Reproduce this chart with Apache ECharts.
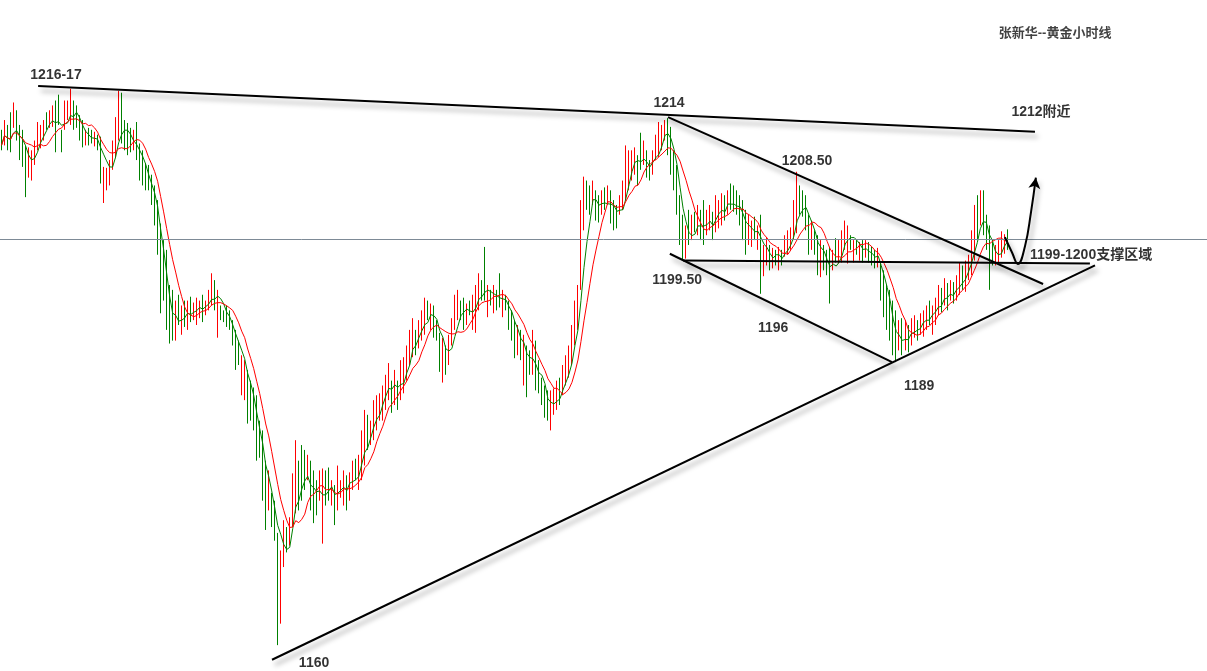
<!DOCTYPE html>
<html>
<head>
<meta charset="utf-8">
<title>张新华--黄金小时线</title>
<script src="https://cdn.jsdelivr.net/npm/echarts@6/dist/echarts.min.js"></script>
<style>
  html, body { margin: 0; padding: 0; background: #ffffff; }
  #chart { width: 1207px; height: 671px; }
</style>
</head>
<body>
<div id="chart"></div>
<script>
// Gold, hourly bars (USD/oz)
const openP = [
  1212.3,1211.6,1212.9,1213.8,1213.4,1214.5,1212.8,1212.2,1210.4,1208.3,
  1208.2,1209.7,1211.2,1211.5,1212.2,1214.2,1213.3,1213.6,1215.0,1215.6,
  1212.4,1213.2,1214.2,1214.0,1215.3,1214.8,1213.8,1213.2,1211.6,1212.7,
  1212.5,1211.5,1212.0,1211.4,1206.0,1207.1,1207.7,1209.3,1210.7,1212.6,
  1215.6,1213.2,1212.9,1212.4,1211.2,1212.9,1210.8,1210.0,1208.9,1208.7,
  1207.6,1206.4,1204.6,1202.0,1200.4,1199.0,1195.8,1195.5,1192.0,1195.2,
  1192.5,1194.8,1193.0,1195.2,1193.7,1193.4,1193.9,1195.3,1194.1,1194.7,
  1195.5,1196.9,1192.6,1194.5,1194.0,1194.3,1193.9,1192.8,1191.6,1190.7,
  1186.4,1186.0,1187.2,1186.4,1185.6,1184.5,1182.3,1180.8,1177.8,1174.6,
  1175.0,1174.0,1170.6,1163.5,1168.8,1171.7,1170.8,1173.0,1174.8,1178.2,
  1179.6,1179.3,1177.4,1178.3,1177.0,1176.2,1175.4,1171.8,1177.2,1177.6,
  1174.9,1175.8,1174.6,1175.5,1175.0,1176.9,1175.3,1176.5,1178.7,1176.6,
  1177.8,1179.4,1183.0,1181.0,1181.8,1182.7,1183.6,1183.7,1184.8,1185.9,
  1186.5,1185.3,1186.6,1185.9,1186.5,1187.8,1189.4,1190.3,1191.8,1191.0,
  1191.8,1192.6,1194.9,1192.9,1194.2,1192.9,1191.3,1187.8,1190.1,1189.3,
  1191.3,1193.0,1193.9,1194.9,1195.0,1193.3,1195.0,1193.0,1192.9,1195.0,
  1197.0,1199.5,1194.3,1196.0,1194.6,1196.0,1197.3,1194.2,1195.5,1194.8,
  1193.7,1192.6,1190.3,1191.7,1187.6,1189.8,1189.7,1188.5,1190.3,1188.6,
  1186.9,1186.0,1185.5,1182.8,1184.1,1184.7,1186.9,1186.2,1187.2,1188.0,
  1189.5,1191.6,1193.2,1197.4,1203.5,1207.0,1206.5,1205.6,1206.0,1205.5,
  1204.6,1206.4,1205.5,1206.0,1205.0,1204.6,1204.5,1205.2,1206.6,1207.4,
  1208.2,1208.7,1209.6,1211.7,1209.7,1210.2,1209.3,1208.7,1210.2,1210.8,
  1211.3,1212.2,1213.4,1212.3,1210.0,1208.3,1205.2,1203.2,1200.2,1203.9,
  1202.0,1204.0,1202.6,1204.0,1204.8,1202.5,1203.0,1203.8,1203.0,1203.3,
  1203.7,1205.6,1204.6,1206.8,1206.5,1206.1,1205.5,1204.8,1203.7,1201.6,
  1201.3,1203.4,1201.0,1203.0,1198.4,1199.5,1200.5,1199.1,1200.2,1198.9,
  1200.2,1200.3,1200.5,1201.0,1202.3,1203.3,1206.5,1206.1,1205.4,1203.3,
  1201.1,1202.0,1201.2,1198.4,1200.5,1200.0,1199.8,1198.8,1201.2,1199.6,
  1199.8,1201.1,1199.9,1201.7,1199.7,1201.2,1199.8,1201.1,1200.1,1200.9,
  1200.4,1200.1,1199.1,1198.6,1197.6,1196.1,1195.5,1194.3,1193.4,1190.8,
  1192.8,1190.8,1192.2,1191.3,1192.0,1192.9,1192.3,1192.2,1192.8,1194.8,
  1192.4,1193.4,1194.4,1196.1,1195.4,1196.6,1195.8,1196.8,1195.9,1196.6,
  1198.4,1196.8,1197.9,1198.7,1200.4,1205.3,1203.7,1205.8,1203.4,1201.8,
  1201.0,1199.3,1199.7,1200.2,1200.5,1202.2
];
const closeP = [
  1211.2,1213.2,1211.5,1211.4,1215.0,1212.6,1210.5,1209.8,1208.0,1210.3,
  1210.0,1211.2,1213.0,1212.8,1213.4,1213.1,1214.4,1214.9,1211.8,1214.0,
  1211.2,1215.1,1215.4,1215.6,1213.4,1213.5,1212.4,1211.6,1212.4,1211.7,
  1211.8,1212.2,1211.1,1208.2,1208.2,1208.4,1209.1,1211.0,1213.3,1215.5,
  1212.6,1211.4,1211.0,1211.2,1212.3,1210.6,1208.5,1207.9,1207.2,1207.0,
  1205.8,1203.8,1201.0,1195.6,1196.5,1193.8,1192.0,1192.2,1194.5,1193.5,
  1194.2,1193.2,1194.7,1193.7,1194.7,1195.0,1194.9,1193.8,1195.0,1196.0,
  1197.4,1195.0,1195.4,1193.7,1193.4,1193.1,1192.7,1191.3,1189.0,1189.2,
  1188.9,1188.3,1183.8,1184.0,1183.0,1180.2,1180.0,1176.2,1173.0,1177.0,
  1172.8,1171.5,1167.0,1168.5,1171.8,1170.2,1172.6,1176.6,1179.5,1175.0,
  1176.2,1176.8,1179.0,1175.0,1173.6,1174.2,1177.2,1177.0,1175.0,1175.6,
  1176.3,1173.3,1177.6,1176.5,1177.2,1174.6,1177.1,1178.4,1177.4,1178.9,
  1181.0,1183.1,1180.8,1182.5,1184.3,1185.0,1185.3,1186.0,1187.0,1188.2,
  1184.6,1187.5,1184.8,1188.4,1188.8,1190.0,1191.6,1192.7,1190.4,1192.7,
  1193.6,1194.8,1193.8,1194.4,1192.2,1191.7,1188.9,1190.6,1188.4,1191.1,
  1192.9,1195.1,1195.8,1193.8,1193.0,1194.5,1194.1,1195.2,1196.0,1197.4,
  1195.8,1196.4,1196.3,1195.2,1196.3,1194.8,1195.3,1195.8,1194.7,1193.0,
  1191.9,1190.2,1192.1,1189.9,1190.8,1186.4,1188.2,1191.4,1187.0,1186.5,
  1185.2,1183.9,1183.6,1185.2,1185.7,1186.5,1185.2,1188.1,1189.1,1190.0,
  1192.0,1194.4,1196.0,1204.2,1206.8,1205.3,1204.8,1207.1,1204.2,1204.0,
  1206.1,1205.1,1206.7,1204.0,1203.2,1203.3,1205.6,1207.0,1210.0,1209.9,
  1210.1,1210.4,1207.8,1209.5,1211.2,1208.5,1208.1,1210.2,1211.8,1212.9,
  1212.8,1213.5,1211.0,1209.2,1207.4,1205.0,1202.0,1200.2,1202.3,1201.8,
  1203.5,1202.8,1204.4,1202.2,1201.9,1204.1,1204.6,1202.2,1205.3,1205.0,
  1205.6,1204.0,1206.1,1205.2,1205.0,1204.6,1203.7,1202.4,1201.0,1203.4,
  1203.0,1202.0,1202.5,1197.6,1200.3,1201.2,1199.0,1200.2,1199.3,1200.3,
  1199.3,1201.5,1202.0,1202.3,1204.8,1206.8,1204.8,1204.5,1203.2,1200.8,
  1202.9,1200.5,1198.7,1200.7,1199.0,1198.5,1197.0,1200.0,1199.7,1201.0,
  1201.9,1202.9,1202.2,1200.8,1201.0,1200.3,1200.9,1199.7,1201.1,1199.7,
  1199.3,1199.0,1200.2,1196.2,1194.5,1193.3,1192.2,1190.8,1189.9,1192.6,
  1190.6,1192.7,1190.7,1192.9,1193.3,1191.7,1193.5,1193.7,1194.2,1193.4,
  1194.2,1195.0,1196.3,1194.7,1197.0,1194.9,1196.9,1195.6,1197.4,1198.5,
  1196.9,1198.8,1199.4,1201.6,1204.0,1202.4,1205.9,1203.0,1201.3,1197.8,
  1199.4,1200.5,1201.0,1201.8,1201.6,1201.6
];
const lowP = [
  1210.7,1211.2,1210.7,1210.5,1213.0,1211.7,1209.7,1209.0,1205.9,1207.9,
  1207.6,1209.2,1210.7,1210.9,1211.7,1212.8,1213.0,1213.1,1210.5,1213.3,
  1210.5,1212.8,1213.8,1213.3,1212.8,1213.0,1211.7,1211.0,1211.2,1211.2,
  1211.4,1211.1,1210.7,1207.3,1205.3,1206.6,1207.1,1208.7,1209.9,1211.7,
  1211.4,1210.7,1210.2,1210.5,1210.7,1209.7,1207.6,1207.1,1206.6,1206.6,
  1205.1,1203.0,1200.0,1194.0,1195.3,1192.3,1190.9,1191.2,1191.2,1192.8,
  1191.8,1192.6,1192.3,1193.1,1193.3,1192.8,1193.5,1193.1,1193.8,1194.3,
  1194.8,1194.3,1191.5,1193.3,1193.1,1192.6,1192.3,1190.7,1188.2,1188.7,
  1185.6,1185.1,1182.7,1183.0,1182.0,1178.9,1179.2,1174.8,1171.8,1173.8,
  1172.1,1170.7,1160.0,1162.2,1168.0,1169.5,1170.2,1172.1,1173.5,1173.8,
  1174.8,1175.9,1176.9,1173.8,1172.5,1173.3,1174.8,1170.4,1174.3,1174.8,
  1174.3,1172.3,1173.8,1175.1,1174.3,1173.8,1174.8,1175.9,1176.9,1175.9,
  1176.9,1178.4,1180.0,1180.5,1181.0,1182.0,1183.0,1183.0,1184.1,1185.1,
  1183.8,1184.6,1184.1,1185.1,1185.8,1187.1,1188.7,1189.5,1189.7,1190.4,
  1191.2,1191.8,1193.3,1192.3,1191.5,1191.2,1188.0,1186.9,1187.7,1188.7,
  1190.7,1192.3,1193.3,1193.3,1192.3,1192.8,1193.8,1192.3,1192.0,1194.3,
  1195.3,1195.3,1193.6,1194.8,1194.0,1194.3,1194.6,1193.6,1194.3,1192.3,
  1191.2,1189.4,1189.7,1189.2,1186.6,1185.4,1187.7,1187.7,1186.1,1185.8,
  1184.6,1183.3,1183.0,1182.0,1183.6,1184.1,1184.6,1185.6,1186.6,1187.4,
  1188.7,1190.7,1192.3,1196.4,1202.5,1204.6,1204.1,1205.1,1203.5,1203.3,
  1204.1,1204.6,1205.1,1203.2,1202.5,1202.7,1204.1,1204.6,1205.6,1206.6,
  1207.6,1208.2,1207.1,1208.7,1209.2,1207.9,1207.6,1208.2,1209.7,1210.0,
  1210.7,1211.7,1210.2,1208.2,1206.6,1204.1,1201.0,1199.5,1199.6,1201.0,
  1201.5,1202.3,1202.0,1201.5,1201.0,1202.0,1202.5,1201.5,1202.3,1202.7,
  1203.0,1203.5,1204.1,1204.6,1204.4,1204.1,1203.0,1201.5,1200.0,1201.0,
  1200.8,1201.5,1200.5,1196.0,1197.8,1198.9,1198.4,1198.6,1198.9,1198.4,
  1198.9,1199.8,1200.0,1200.5,1201.5,1202.2,1204.1,1203.9,1202.5,1200.0,
  1200.5,1200.0,1197.9,1197.7,1198.4,1197.9,1195.0,1198.4,1199.2,1199.1,
  1199.2,1200.5,1199.1,1200.5,1199.2,1200.0,1199.4,1199.2,1199.7,1199.2,
  1198.9,1198.6,1198.7,1195.3,1193.6,1192.3,1191.2,1189.7,1189.0,1190.2,
  1189.7,1190.2,1190.0,1190.7,1191.5,1191.2,1191.8,1191.6,1192.3,1192.8,
  1191.8,1192.8,1193.8,1194.1,1194.8,1194.3,1195.3,1195.0,1195.3,1195.9,
  1196.4,1196.2,1197.4,1197.9,1199.4,1201.5,1203.0,1202.0,1200.5,1196.4,
  1198.9,1198.9,1199.2,1199.7,1200.1,1200.5
];
const highP = [
  1212.8,1213.8,1213.3,1214.6,1215.6,1214.8,1213.3,1212.8,1211.2,1211.0,
  1210.7,1211.7,1213.6,1213.3,1213.8,1214.6,1214.8,1215.3,1215.8,1216.4,
  1212.8,1215.8,1215.8,1217.0,1215.8,1215.3,1214.3,1213.8,1212.8,1213.0,
  1212.8,1212.6,1212.3,1212.1,1209.0,1208.9,1209.7,1211.7,1214.1,1216.8,
  1216.6,1213.8,1213.5,1213.0,1212.8,1213.6,1211.4,1210.7,1209.4,1209.2,
  1208.2,1207.1,1205.6,1203.2,1201.5,1200.5,1196.9,1196.4,1195.3,1195.9,
  1194.8,1195.3,1195.3,1195.7,1195.1,1195.6,1195.3,1195.9,1195.3,1196.4,
  1198.1,1197.4,1196.4,1194.8,1194.3,1194.8,1194.3,1193.3,1192.3,1191.2,
  1189.7,1189.2,1188.2,1187.1,1186.4,1185.6,1183.0,1182.0,1178.9,1177.9,
  1175.6,1174.8,1171.5,1169.7,1172.8,1172.1,1173.1,1177.6,1181.0,1178.9,
  1180.5,1180.0,1179.5,1178.9,1177.9,1176.9,1177.9,1178.1,1177.9,1178.2,
  1176.9,1176.4,1178.4,1176.9,1177.9,1177.4,1177.7,1178.9,1179.1,1179.5,
  1182.0,1184.1,1183.6,1183.0,1185.1,1185.6,1185.8,1186.6,1187.7,1188.9,
  1187.1,1188.2,1187.1,1189.2,1189.5,1190.7,1192.3,1193.5,1192.3,1193.3,
  1194.3,1195.6,1195.3,1195.0,1194.8,1193.3,1192.0,1191.5,1190.7,1191.8,
  1193.5,1195.9,1196.4,1195.3,1195.6,1195.0,1195.3,1195.9,1196.9,1198.1,
  1197.4,1200.8,1196.9,1196.4,1196.9,1196.4,1198.1,1196.4,1195.9,1195.3,
  1194.3,1193.3,1192.8,1192.3,1191.8,1190.7,1190.2,1192.3,1191.2,1189.2,
  1187.4,1186.6,1186.1,1186.1,1186.3,1187.1,1187.4,1188.7,1189.7,1190.7,
  1192.8,1195.3,1196.9,1205.6,1208.0,1207.6,1207.1,1207.6,1206.6,1206.1,
  1206.6,1206.9,1207.1,1206.6,1205.6,1205.1,1206.1,1207.6,1211.2,1210.7,
  1210.7,1211.0,1210.2,1212.5,1211.7,1210.7,1209.7,1210.7,1212.3,1213.6,
  1213.3,1213.8,1214.0,1213.1,1210.7,1209.2,1206.1,1204.1,1203.0,1204.6,
  1204.1,1204.4,1205.1,1204.6,1205.6,1204.6,1205.1,1204.4,1206.1,1205.6,
  1206.3,1206.1,1206.6,1207.3,1207.1,1206.6,1206.1,1205.6,1204.6,1204.1,
  1203.5,1203.9,1203.0,1204.1,1201.0,1201.8,1201.0,1200.7,1200.5,1200.8,
  1200.5,1202.0,1202.5,1202.8,1205.6,1208.5,1207.1,1206.6,1206.1,1204.1,
  1203.5,1202.5,1202.0,1201.5,1201.0,1200.5,1200.8,1200.5,1201.7,1201.5,
  1202.5,1203.5,1203.0,1202.0,1201.5,1201.5,1201.3,1201.5,1201.5,1201.3,
  1200.8,1200.5,1200.7,1199.2,1198.4,1196.9,1196.4,1195.3,1194.3,1193.3,
  1193.5,1193.3,1192.8,1193.5,1193.8,1193.3,1194.0,1194.3,1194.8,1195.3,
  1194.8,1195.6,1196.9,1196.6,1197.6,1197.1,1197.4,1197.2,1197.9,1199.2,
  1198.9,1199.4,1200.0,1202.5,1205.1,1206.1,1206.6,1206.6,1204.1,1203.0,
  1201.5,1201.0,1201.5,1202.4,1202.1,1202.6
];

// Last traded price, drawn as the thin grey line across the chart
const lastPrice = 1201.6;

// Hand-drawn trend lines: [barIndex, price] pairs
const trendLines = [
  [[12.2, 1217.3], [344.2, 1212.6]],   // upper resistance from 1216-17
  [[222.0, 1214.1], [346.9, 1197.0]],  // falling channel top from 1214
  [[222.6, 1200.1], [296.6, 1189.0]],  // falling channel bottom to 1189
  [[227.0, 1199.4], [362.5, 1199.1]],  // 1199.50 support
  [[90.1, 1158.5], [364.2, 1198.9]]    // rising support from 1160
];

// Expected path: dip into support, then up toward 1212
const forecastPath = [
  [334.2, 1201.8], [336.6, 1200.2], [338.5, 1199.05],
  [340.9, 1200.9], [342.9, 1204.4], [344.5, 1207.9]
];

// Text notes: [barIndex, price, text]
const notes = [
  [18.15, 1218.35, '1216-17'],
  [222.3, 1215.55, '1214'],
  [268.3, 1209.6, '1208.50'],
  [346.2, 1214.65, '1212附近'],
  [225.0, 1197.35, '1199.50'],
  [257.0, 1192.45, '1196'],
  [305.6, 1186.5, '1189'],
  [104.1, 1158.15, '1160'],
  [362.9, 1199.95, '1199-1200支撑区域']
];
const titleNote = [350.9, 1222.65, '张新华--黄金小时线'];

const SLOTS = 402;                 // category slots across the whole width
const Y_MIN = 1157.35, Y_MAX = 1226.1;

const categories = [];
for (let i = 0; i < SLOTS; i++) categories.push(String(i));

const candles = openP.map((o, i) => [o, closeP[i], lowP[i], highP[i]]);

function movingAverage(n) {
  const out = [];
  for (let i = 0; i < closeP.length; i++) {
    const start = Math.max(0, i - n + 1);
    let sum = 0;
    for (let j = start; j <= i; j++) sum += closeP[j];
    out.push(+(sum / (i - start + 1)).toFixed(2));
  }
  return out;
}

const FONT = '"Liberation Sans", "Noto Sans CJK SC", sans-serif';
const lineShadow = {
  color: '#000000', width: 2,
  shadowColor: 'rgba(0,0,0,0.35)', shadowBlur: 5, shadowOffsetX: 3, shadowOffsetY: 5
};

const series = [
  {
    type: 'candlestick',
    xAxisIndex: 0, yAxisIndex: 0,
    data: candles,
    barWidth: 1,
    itemStyle: {
      color: '#ff0000', color0: '#008000',
      borderColor: '#ff0000', borderColor0: '#008000', borderWidth: 1
    },
    markLine: {
      silent: true, symbol: 'none',
      label: { show: false },
      lineStyle: { color: '#7d8a96', width: 1, type: 'solid' },
      data: [{ yAxis: lastPrice }]
    }
  },
  {
    type: 'line', xAxisIndex: 0, yAxisIndex: 0,
    data: movingAverage(5), symbol: 'none', smooth: false,
    lineStyle: { color: '#008000', width: 1 }, z: 3
  },
  {
    type: 'line', xAxisIndex: 0, yAxisIndex: 0,
    data: movingAverage(10), symbol: 'none', smooth: false,
    lineStyle: { color: '#ff0000', width: 1 }, z: 3
  }
];

trendLines.forEach(seg => {
  series.push({
    type: 'line', xAxisIndex: 1, yAxisIndex: 0,
    data: seg, symbol: 'none', lineStyle: lineShadow, z: 5, silent: true
  });
});

series.push({
  type: 'line', xAxisIndex: 1, yAxisIndex: 0,
  smooth: 0.45, showSymbol: true, symbol: 'none', silent: true, z: 5,
  lineStyle: lineShadow,
  itemStyle: { color: '#000000' },
  data: forecastPath.map((p, i) => i === forecastPath.length - 1
    ? { value: p, symbol: 'arrow', symbolSize: [9, 11], symbolRotate: -8 }
    : { value: p })
});

series.push({
  type: 'scatter', xAxisIndex: 1, yAxisIndex: 0,
  symbolSize: 0, silent: true, z: 6,
  label: {
    show: true, position: 'inside', formatter: '{b}',
    color: '#000000', fontFamily: FONT, fontSize: 14, fontWeight: 'bold'
  },
  data: notes.map(n => ({ name: n[2], value: [n[0], n[1]] }))
    .concat([{
      name: titleNote[2], value: [titleNote[0], titleNote[1]],
      label: { fontSize: 13, fontWeight: 'bold', color: '#111111' }
    }])
});

const chart = echarts.init(document.getElementById('chart'), null, { renderer: 'canvas' });
chart.setOption({
  animation: false,
  backgroundColor: '#ffffff',
  grid: { left: 0, right: 0, top: 0, bottom: 0, containLabel: false },
  xAxis: [
    { type: 'category', data: categories, boundaryGap: true, show: false },
    { type: 'value', min: -0.5, max: SLOTS - 0.5, show: false }
  ],
  yAxis: [
    { type: 'value', min: Y_MIN, max: Y_MAX, show: false, scale: true }
  ],
  series: series
});
</script>
</body>
</html>
